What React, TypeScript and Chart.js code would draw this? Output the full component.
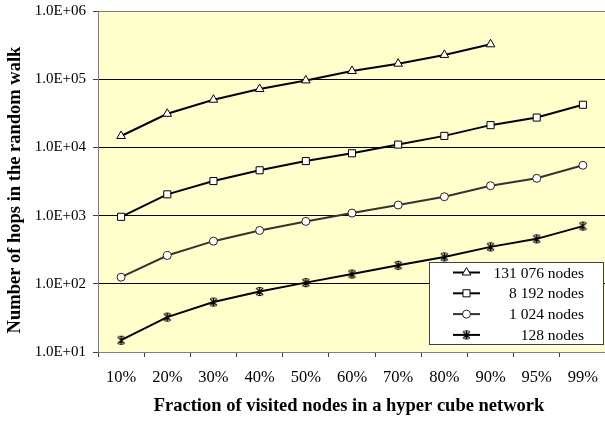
import React, { useEffect, useRef } from "react";
import { Chart, registerables } from "chart.js";
import { drawPoint } from "chart.js/helpers";

Chart.register(...registerables);

// Categories: fraction of the hyper cube that has been visited
const categories = ["10%", "20%", "30%", "40%", "50%", "60%", "70%", "80%", "90%", "95%", "99%"];

// Number of hops in the random walk, one series per network size
const hops131076 = [14700, 31100, 50000, 71800, 96000, 132000, 169000, 227000, 325000, null, null];
const hops8192 = [960, 2050, 3210, 4620, 6300, 8200, 11000, 14750, 21200, 27400, 42200];
const hops1024 = [125, 260, 422, 605, 822, 1090, 1430, 1890, 2740, 3520, 5470];
const hops128 = [14.9, 32.5, 54, 77, 104, 139, 187, 248, 348, 456, 701];

const seriesNames = ["131 076 nodes", "8 192 nodes", "1 024 nodes", "128 nodes"];

// Decade ticks of the logarithmic axis
const yTickValues = [10, 100, 1000, 10000, 100000, 1000000];
const yTickLabels = ["1.0E+01", "1.0E+02", "1.0E+03", "1.0E+04", "1.0E+05", "1.0E+06"];

const xTitle = "Fraction of visited nodes in a hyper cube network";
const yTitle = "Number of hops in the random walk";

const SERIF = "'Liberation Serif', 'Times New Roman', serif";

function makeStarMarker(): HTMLCanvasElement {
  const c = document.createElement("canvas");
  c.width = 11;
  c.height = 11;
  const g = c.getContext("2d")!;
  g.strokeStyle = "#000";
  g.lineWidth = 1.2;
  g.beginPath();
  g.moveTo(2, 2);
  g.lineTo(9, 9);
  g.moveTo(9, 2);
  g.lineTo(2, 9);
  g.moveTo(5.5, 1.5);
  g.lineTo(5.5, 9.5);
  g.moveTo(3.5, 1.5);
  g.lineTo(7.5, 1.5);
  g.moveTo(3.5, 9.5);
  g.lineTo(7.5, 9.5);
  g.stroke();
  return c;
}

const plotBackground = {
  id: "plotBackground",
  beforeDraw(chart: any) {
    const { ctx, chartArea: a } = chart;
    ctx.save();
    ctx.fillStyle = "#FFFFCC";
    ctx.fillRect(a.left, a.top, a.right - a.left, a.bottom - a.top);
    ctx.restore();
  },
};

const titlesAndLegend = {
  id: "titlesAndLegend",
  afterDraw(chart: any) {
    const { ctx } = chart;
    ctx.save();
    // axis titles
    ctx.fillStyle = "#000";
    ctx.font = `bold 18.5px ${SERIF}`;
    ctx.textAlign = "center";
    ctx.textBaseline = "middle";
    ctx.fillText(xTitle, 349, 406);
    ctx.save();
    ctx.translate(15.5, 190);
    ctx.rotate(-Math.PI / 2);
    ctx.fillText(yTitle, 0, 0);
    ctx.restore();

    // legend box
    ctx.fillStyle = "#FFFFFF";
    ctx.fillRect(429.5, 262.5, 174, 82);
    ctx.strokeStyle = "#404040";
    ctx.lineWidth = 1;
    ctx.strokeRect(429.5, 262.5, 174, 82);

    ctx.font = `15.5px ${SERIF}`;
    ctx.textAlign = "right";
    chart.data.datasets.forEach((ds: any, i: number) => {
      const y = 272.5 + i * 20.8;
      ctx.strokeStyle = ds.borderColor;
      ctx.lineWidth = 2;
      ctx.beginPath();
      ctx.moveTo(453, y);
      ctx.lineTo(480, y);
      ctx.stroke();
      ctx.fillStyle = ds.pointBackgroundColor;
      ctx.strokeStyle = ds.pointBorderColor;
      ctx.lineWidth = 1;
      drawPoint(ctx, { pointStyle: ds.pointStyle, radius: ds.pointRadius, borderWidth: 1, rotation: 0 } as any, 466.5, y);
      ctx.fillStyle = "#000";
      ctx.fillText(seriesNames[i], 584, y + 1);
    });
    ctx.restore();
  },
};

export default function App() {
  const canvasRef = useRef<HTMLCanvasElement | null>(null);

  useEffect(() => {
    const star = makeStarMarker();
    const common = {
      pointBackgroundColor: "#FFFFFF",
      pointBorderColor: "#000000",
      pointBorderWidth: 1,
      borderWidth: 2,
    };
    const chart = new Chart(canvasRef.current!, {
      type: "line",
      data: {
        labels: categories,
        datasets: [
          { label: seriesNames[0], data: hops131076, borderColor: "#000000", pointStyle: "triangle", pointRadius: 5, ...common },
          { label: seriesNames[1], data: hops8192, borderColor: "#000000", pointStyle: "rect", pointRadius: 5, ...common },
          { label: seriesNames[2], data: hops1024, borderColor: "#333333", pointStyle: "circle", pointRadius: 4, ...common, pointBorderColor: "#222222" },
          { label: seriesNames[3], data: hops128, borderColor: "#000000", pointStyle: star as any, pointRadius: 5, ...common },
        ],
      },
      options: {
        responsive: false,
        animation: false,
        layout: { padding: { top: 11, right: 2, left: 0, bottom: 0 } },
        plugins: { legend: { display: false }, tooltip: { enabled: false } },
        scales: {
          x: {
            type: "category",
            offset: true,
            grid: { offset: true, drawOnChartArea: false, drawTicks: true, tickLength: 5, tickColor: "#404040" },
            border: { color: "#808080", width: 1 },
            ticks: { color: "#000", font: { family: SERIF, size: 16.5 }, padding: 11, maxRotation: 0, autoSkip: false },
            afterFit(scale: any) {
              scale.height = 71;
              scale.paddingLeft = 0;
              scale.paddingRight = 0;
            },
          },
          y: {
            type: "logarithmic",
            min: 10,
            max: 1000000,
            afterBuildTicks(scale: any) {
              scale.ticks = yTickValues.map((v) => ({ value: v }));
            },
            afterFit(scale: any) {
              scale.width = 98;
              scale.paddingTop = 0;
              scale.paddingBottom = 0;
            },
            grid: {
              color: (c: any) => (c.tick && c.tick.value === 1000000 ? "#808080" : c.tick && c.tick.value === 10 ? "rgba(0,0,0,0)" : "#000000"),
              lineWidth: 1,
              tickLength: 5,
              tickColor: "#404040",
            },
            border: { color: "#808080", width: 1 },
            ticks: {
              color: "#000",
              font: { family: SERIF, size: 15 },
              padding: 7,
              callback: (v: any) => {
                const i = yTickValues.indexOf(Number(v));
                return i >= 0 ? yTickLabels[i] : "";
              },
            },
          },
        },
      },
      plugins: [plotBackground, titlesAndLegend],
    });
    return () => chart.destroy();
  }, []);

  return (
    <div style={{ position: "fixed", left: 0, top: 0, width: 605, height: 423, overflow: "hidden", background: "#fff" }}>
      <canvas ref={canvasRef} width={612} height={423} style={{ display: "block" }} />
    </div>
  );
}
